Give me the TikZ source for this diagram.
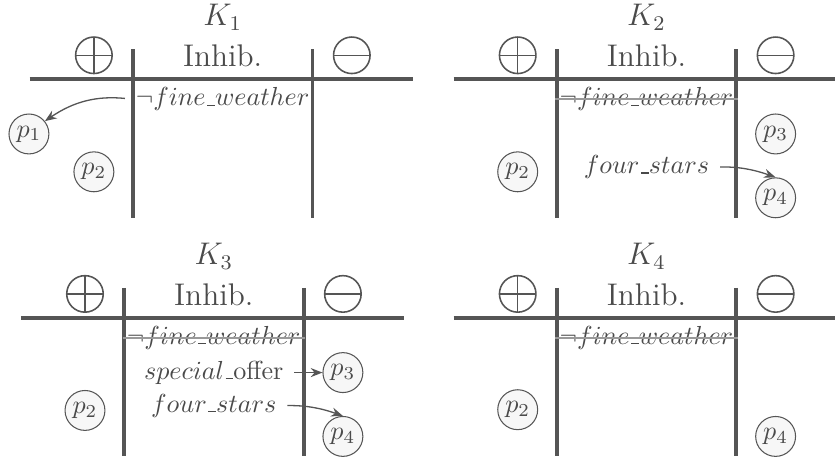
\documentclass[tikz,border=0pt]{standalone}
\usepackage{tikz}
\usetikzlibrary{arrows.meta}

\definecolor{framegray}{HTML}{555555}
\definecolor{inkgray}{HTML}{4A4A4A}
\definecolor{worldfill}{HTML}{F7F7F7}
\newcommand{\usc}{\mbox{\kern.06em\vbox{\hrule width.3em}}}

\tikzset{
  frameline/.style={line width=1.5pt, draw=framegray},
  paneltitle/.style={text=inkgray, font=\large},
  formula/.style={text=inkgray, inner sep=1.5pt},
  world/.style={circle, draw=framegray, line width=0.4pt, fill=worldfill, text=inkgray, minimum size=15.3pt, inner sep=0pt},
  signbox/.style={circle, draw=framegray, line width=0.6pt, minimum size=14pt, inner sep=0pt},
  plussign/.style={signbox, path picture={\draw[framegray, line width=0.6pt] (path picture bounding box.west) -- (path picture bounding box.east) (path picture bounding box.north) -- (path picture bounding box.south);}},
  minussign/.style={signbox, path picture={\draw[framegray, line width=0.6pt] (path picture bounding box.west) -- (path picture bounding box.east);}},
  strikeline/.style={draw=gray!80, line width=0.7pt},
  pointer/.style={->, >={Stealth[length=4.5pt, width=3.5pt, inset=1.5pt]}, draw=framegray, line width=0.5pt, shorten <=2.5pt},
}

\begin{document}
\begin{tikzpicture}
	\useasboundingbox (0, 0) rectangle (11.25, 6.21);
	% the four frames
	\foreach \n/\ox/\oy in {1/1.79/5.145, 2/7.50/5.145, 3/1.67/1.93, 4/7.50/1.93} {
		\coordinate (o\n) at (\ox, \oy);
		\begin{scope}[shift={(o\n)}]
			\draw [frameline] (-1.39, 0) -- (3.77, 0);
			\draw [frameline] (0, 0.40) -- (0, -1.87);
			\draw [frameline] (2.42, 0.40) -- (2.42, -1.87);
			\node [paneltitle] (k\n) at (1.21, 0.83) {$K_\n$};
			\node [paneltitle] (inhib\n) at (1.21, 0.31) {Inhib.};
			\node [plussign] (plus\n) at (-0.525, 0.32) {};
			\node [minussign] (minus\n) at (2.95, 0.32) {};
			\node [formula] (fw\n) at (1.21, -0.27) {$\neg fine\usc weather$};
			\ifnum\n>1 \draw [strikeline] (fw\n.west) -- (fw\n.east); \fi
		\end{scope}
	}
	% K1
	\begin{scope}[shift={(o1)}]
		\node [world] (p1a) at (-1.40, -0.74) {$p_1$};
		\node [world] (p2a) at (-0.525, -1.25) {$p_2$};
	\end{scope}
	\draw [pointer] (fw1.west) to [bend right=20] (p1a);
	% K2
	\begin{scope}[shift={(o2)}]
		\node [world] (p2b) at (-0.525, -1.25) {$p_2$};
		\node [world] (p3b) at (2.95, -0.74) {$p_3$};
		\node [world] (p4b) at (2.95, -1.60) {$p_4$};
		\node [formula] (fs2) at (1.21, -1.185) {$four\usc stars$};
	\end{scope}
	\draw [pointer] (fs2.east) to [bend left=10] (p4b.north);
	% K3
	\begin{scope}[shift={(o3)}]
		\node [world] (p2c) at (-0.525, -1.25) {$p_2$};
		\node [world] (p3c) at (2.95, -0.74) {$p_3$};
		\node [world] (p4c) at (2.95, -1.60) {$p_4$};
		\node [formula] (so3) at (1.21, -0.74) {$special\usc$offer};
		\node [formula] (fs3) at (1.21, -1.185) {$four\usc stars$};
	\end{scope}
	\draw [pointer] (so3.east) -- (p3c);
	\draw [pointer] (fs3.east) to [bend left=10] (p4c.north);
	% K4
	\begin{scope}[shift={(o4)}]
		\node [world] (p2d) at (-0.525, -1.24) {$p_2$};
		\node [world] (p4d) at (2.95, -1.60) {$p_4$};
	\end{scope}
\end{tikzpicture}
\end{document}
